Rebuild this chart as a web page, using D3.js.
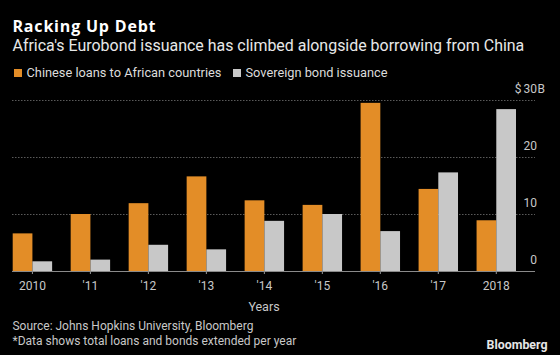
<!DOCTYPE html>
<html>
<head>
<meta charset="utf-8">
<script src="https://cdn.jsdelivr.net/npm/d3@7"></script>
<style>
  html, body { margin: 0; padding: 0; background: #000; }
  svg { display: block; }
  text { font-family: Roboto, "Noto Sans", sans-serif; }
</style>
</head>
<body>
<script>
const years = ["2010", "'11", "'12", "'13", "'14", "'15", "'16", "'17", "2018"];
const chineseLoans = [6.6, 10.0, 11.9, 16.6, 12.4, 11.6, 29.5, 14.4, 8.9];
const bondIssuance = [1.7, 2.0, 4.6, 3.8, 8.8, 10.0, 7.0, 17.3, 28.4];
const seriesNames = ["Chinese loans to African countries", "Sovereign bond issuance"];
const yTicks = [0, 10, 20, 30];

const W = 560, H = 355;
const orange = "#e38d27", grey = "#c8c8c8";

const svg = d3.select("body").append("svg").attr("width", W).attr("height", H);
svg.append("rect").attr("width", W).attr("height", H).attr("fill", "#000");

function fit(sel, target) {
  const node = sel.node();
  const fs = parseFloat(sel.attr("font-size"));
  const w = node.getComputedTextLength();
  if (w > 0) sel.attr("font-size", (fs * target / w).toFixed(2));
  return sel;
}

// Titles
const title = svg.append("text").attr("x", 12.5).attr("y", 31.5).attr("fill", "#fff")
  .attr("font-size", 16).attr("font-weight", "bold")
  .style("font-family", "'Open Sans', 'DejaVu Sans', sans-serif").text("Racking Up Debt");
{
  const w = title.node().getComputedTextLength();
  if (w > 0) title.attr("letter-spacing", ((143 - w) / 14).toFixed(2));
}
fit(svg.append("text").attr("x", 12.5).attr("y", 50.5).attr("fill", "#e8e8e8")
  .attr("font-size", 15).text("Africa's Eurobond issuance has climbed alongside borrowing from China"), 512);

// Legend
const legendX = [14, 233];
const legendW = [195, 142];
seriesNames.forEach((name, i) => {
  svg.append("rect").attr("x", legendX[i]).attr("y", 69).attr("width", 8).attr("height", 8)
    .attr("fill", i === 0 ? orange : grey);
  fit(svg.append("text").attr("x", legendX[i] + 12.5).attr("y", 77).attr("fill", "#dcdcdc")
    .attr("font-size", 13).text(name), legendW[i]);
});

// Scales
const x0 = d3.scaleBand().domain(years).range([12.7, 516]).paddingInner(0.32).paddingOuter(0);
const x1 = d3.scaleBand().domain([0, 1]).range([0, x0.bandwidth()]);
const y = d3.scaleLinear().domain([0, 30]).range([271, 100]);

// Gridlines
svg.append("g").selectAll("line").data(yTicks.filter(d => d > 0)).join("line")
  .attr("x1", 12).attr("x2", 535)
  .attr("y1", d => y(d) + 0.5).attr("y2", d => y(d) + 0.5)
  .attr("stroke", "#5a5a5a").attr("stroke-width", 1).attr("stroke-dasharray", "1.5,1.5");

// Y labels
const yl = svg.append("g").attr("fill", "#c8c8c8").attr("font-size", 12);
yTicks.forEach(t => {
  yl.append("text").attr("x", 537).attr("y", y(t) - 7.5).attr("text-anchor", "end").text(t);
});
yl.append("text").attr("x", 521.5).attr("y", y(30) - 7.5).attr("text-anchor", "end").text("$");
yl.append("text").attr("x", 537.5).attr("y", y(30) - 7.5).text("B");

// Bars
const data = years.map((yr, i) => ({ yr, vals: [chineseLoans[i], bondIssuance[i]] }));
const groups = svg.append("g").selectAll("g").data(data).join("g")
  .attr("transform", d => `translate(${x0(d.yr)},0)`);
groups.selectAll("rect").data(d => d.vals.map((v, k) => ({ v, k }))).join("rect")
  .attr("x", d => x1(d.k))
  .attr("width", x1.bandwidth())
  .attr("y", d => y(d.v))
  .attr("height", d => y(0) - y(d.v))
  .attr("fill", d => d.k === 0 ? orange : grey);

// X axis
const xAxis = d3.axisBottom(x0).tickSize(3).tickPadding(7);
const gx = svg.append("g").attr("transform", `translate(0,${y(0)})`).call(xAxis);
gx.select(".domain").remove();
gx.selectAll(".tick line").attr("stroke", "#999");
gx.selectAll(".tick text").attr("fill", "#c8c8c8").attr("font-size", 12)
  .attr("font-family", "Roboto, 'Noto Sans', sans-serif");
svg.append("line").attr("x1", 12).attr("x2", 535).attr("y1", y(0) + 0.5).attr("y2", y(0) + 0.5)
  .attr("stroke", "#8a8a8a").attr("stroke-width", 1);

svg.append("text").attr("x", 264).attr("y", 311).attr("text-anchor", "middle")
  .attr("fill", "#c8c8c8").attr("font-size", 12.5).text("Years");

// Footer
fit(svg.append("text").attr("x", 12.5).attr("y", 330).attr("fill", "#c8c8c8")
  .attr("font-size", 12).text("Source: Johns Hopkins University, Bloomberg"), 241);
fit(svg.append("text").attr("x", 12.5).attr("y", 345).attr("fill", "#c8c8c8")
  .attr("font-size", 12).text("*Data shows total loans and bonds extended per year"), 284);
fit(svg.append("text").attr("x", 547.5).attr("y", 348.5).attr("text-anchor", "end").attr("fill", "#e6e6e6")
  .attr("font-size", 12).attr("font-weight", "bold").text("Bloomberg"), 61);
</script>
</body>
</html>
